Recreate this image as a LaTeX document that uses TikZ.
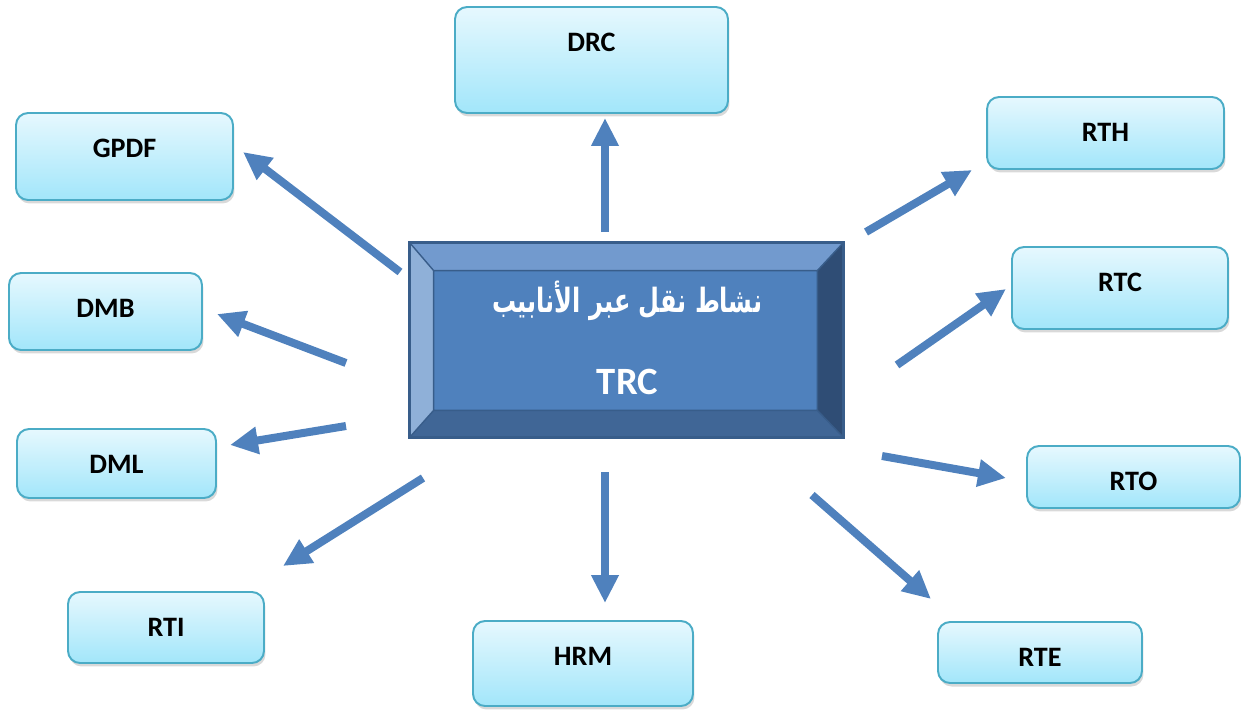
\documentclass[tikz,border=0pt]{standalone}
\usepackage{fontspec}
\setmainfont{Carlito}
\newfontfamily\arabicfont[Script=Arabic]{DejaVu Sans}
\TeXXeTstate=1
\usetikzlibrary{arrows.meta,shadows,calc}
\definecolor{leaftop}{HTML}{E6F8FE}
\definecolor{leafbot}{HTML}{A2E6FA}
\definecolor{leafline}{HTML}{4BACC6}
\definecolor{hubface}{HTML}{4F81BD}
\definecolor{hubline}{HTML}{385D8A}
\definecolor{bevtop}{HTML}{729ACE}
\definecolor{bevleft}{HTML}{8FB0D8}
\definecolor{bevright}{HTML}{2F4D75}
\definecolor{bevbot}{HTML}{406696}
\tikzset{
  leaf/.style={draw=leafline,line width=1.1pt,rounded corners=0.24cm
    ,top color=leaftop,bottom color=leafbot
    ,drop shadow={shadow xshift=0.03cm,shadow yshift=-0.07cm,opacity=0.3}},
  leaflbl/.style={anchor=center,yshift=-0.73cm,font=\fontsize{16}{18}\selectfont\bfseries},
  flow/.style={-{Triangle[length=0.56cm,width=0.52cm]},line width=0.16cm,draw=hubface},
}

\begin{document}
\begin{tikzpicture}[x=0.02cm,y=-0.02cm]
  \useasboundingbox (0,0) rectangle (1241,710);

  % central block
  \node[fill=hubface,minimum width=8.66cm,minimum height=3.88cm
  ,inner sep=0pt] (trc) at (626.5,340) {};
  \coordinate (inw) at ($(trc.north west)+(24,28)$);
  \coordinate (ine) at ($(trc.north east)+(-26,28)$);
  \coordinate (isw) at ($(trc.south west)+(24,-27)$);
  \coordinate (ise) at ($(trc.south east)+(-26,-27)$);
  \fill[bevtop]   (trc.north west) -- (trc.north east) -- (ine) -- (inw) -- cycle;
  \fill[bevleft]  (trc.north west) -- (inw) -- (isw) -- (trc.south west) -- cycle;
  \fill[bevright] (trc.north east) -- (trc.south east) -- (ise) -- (ine) -- cycle;
  \fill[bevbot]   (trc.south west) -- (isw) -- (ise) -- (trc.south east) -- cycle;
  \draw[hubline,line width=0.8pt]
  (trc.north west) -- (inw) (trc.north east) -- (ine)
  (trc.south west) -- (isw) (trc.south east) -- (ise)
  (inw) rectangle (ise);
  \draw[hubline,line width=1.8pt] (trc.north west) rectangle (trc.south east);
  \node[white,font=\arabicfont\bfseries\fontsize{19}{22}\selectfont]
  (trcar) at (627.5,301) {\scalebox{0.72}[1]{\beginR نشاط نقل عبر الأنابيب\endR}};
  \node[white,font=\fontsize{22}{26}\selectfont\bfseries]
  (trclat) at (627.5,382) {TRC};

  % surrounding blocks
  \node[leaf,minimum width=5.46cm,minimum height=2.12cm,label={[leaflbl]north:DRC}]  (drc)  at (591.5,60) {};
  \node[leaf,minimum width=4.34cm,minimum height=1.74cm,label={[leaflbl]north:GPDF}] (gpdf) at (124.5,156.5) {};
  \node[leaf,minimum width=3.86cm,minimum height=1.54cm,label={[leaflbl]north:DMB}]  (dmb)  at (105.5,311.5) {};
  \node[leaf,minimum width=3.98cm,minimum height=1.38cm,label={[leaflbl]north:DML}]  (dml)  at (116.5,463.5) {};
  \node[leaf,minimum width=3.92cm,minimum height=1.42cm,label={[leaflbl]north:RTI}]  (rti)  at (166,627.5) {};
  \node[leaf,minimum width=4.40cm,minimum height=1.70cm,label={[leaflbl]north:HRM}]  (hrm)  at (583,663.5) {};
  \node[leaf,minimum width=4.08cm,minimum height=1.22cm,label={[leaflbl]north:RTE}]  (rte)  at (1040,652.5) {};
  \node[leaf,minimum width=4.26cm,minimum height=1.24cm,label={[leaflbl]north:RTO}]  (rto)  at (1133.5,477) {};
  \node[leaf,minimum width=4.32cm,minimum height=1.64cm,label={[leaflbl]north:RTC}]  (rtc)  at (1120,288) {};
  \node[leaf,minimum width=4.74cm,minimum height=1.44cm,label={[leaflbl]north:RTH}]  (rth)  at (1105.5,133) {};

  % arrow ends
  \coordinate (drc-a)  at (605,232);  \coordinate (drc-b)  at (605,118);
  \coordinate (gpdf-a) at (400,272);  \coordinate (gpdf-b) at (243,152);
  \coordinate (dmb-a)  at (346,363);  \coordinate (dmb-b)  at (217,314);
  \coordinate (dml-a)  at (346,426);  \coordinate (dml-b)  at (230,445);
  \coordinate (rti-a)  at (423,478);  \coordinate (rti-b)  at (283,566);
  \coordinate (hrm-a)  at (605,472);  \coordinate (hrm-b)  at (605,603);
  \coordinate (rte-a)  at (812,495);  \coordinate (rte-b)  at (931,599);
  \coordinate (rto-a)  at (882,456);  \coordinate (rto-b)  at (1006,478);
  \coordinate (rtc-a)  at (897,365);  \coordinate (rtc-b)  at (1006,289);
  \coordinate (rth-a)  at (866,232);  \coordinate (rth-b)  at (972,170);

  \draw[flow] (drc-a) -- (drc-b);
  \draw[flow] (gpdf-a) -- (gpdf-b);
  \draw[flow] (dmb-a) -- (dmb-b);
  \draw[flow] (dml-a) -- (dml-b);
  \draw[flow] (rti-a) -- (rti-b);
  \draw[flow] (hrm-a) -- (hrm-b);
  \draw[flow] (rte-a) -- (rte-b);
  \draw[flow] (rto-a) -- (rto-b);
  \draw[flow] (rtc-a) -- (rtc-b);
  \draw[flow] (rth-a) -- (rth-b);
\end{tikzpicture}
\end{document}
